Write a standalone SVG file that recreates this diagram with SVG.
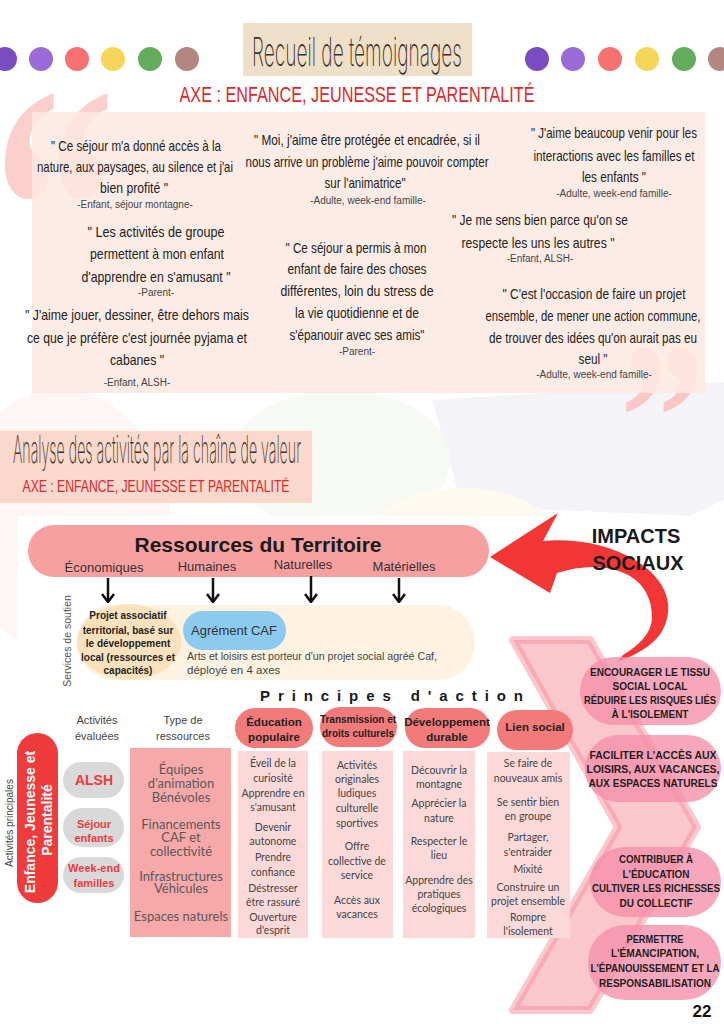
<svg xmlns="http://www.w3.org/2000/svg" width="724" height="1024" viewBox="0 0 724 1024">
<style>
.q{font-family:"Liberation Sans",Arial,sans-serif;font-size:14.5px;fill:#222;text-anchor:middle}
.a{font-family:"Liberation Sans",Arial,sans-serif;font-size:10px;fill:#444;text-anchor:middle}
.thin{font-family:Inter,"DejaVu Sans",sans-serif;font-weight:200;fill:#3d3229;text-anchor:middle}
.axe{font-family:"Liberation Sans",Arial,sans-serif;fill:#e3262b;text-anchor:middle}
.lbl{font-family:"Liberation Sans",Arial,sans-serif;font-size:13px;fill:#333;text-anchor:middle}
.col{font-family:Lato,"Liberation Sans",sans-serif;font-size:10.5px;fill:#444;text-anchor:middle}
.hd{font-family:"Liberation Sans",Arial,sans-serif;font-weight:bold;fill:#222;text-anchor:middle}
.res{font-family:Lato,"Liberation Sans",sans-serif;font-size:13px;fill:#5a5a5a;text-anchor:middle}
.imp{font-family:"Liberation Sans",Arial,sans-serif;font-weight:bold;font-size:10.5px;fill:#1e1e1e;text-anchor:middle}
.act{font-family:"Liberation Sans",Arial,sans-serif;font-weight:bold;fill:#ee3b3b;text-anchor:middle}
.sm{font-family:"Liberation Sans",Arial,sans-serif;font-size:11px;fill:#444;text-anchor:middle}
.big{font-family:"Liberation Serif","Times New Roman",serif;font-weight:bold}
.pillh{fill:#f27a7a}
.colbox{fill:#fcd9d9}
.ipill{fill:#f590aa;fill-opacity:0.8}
.darr{stroke:#111;stroke-width:2.5;fill:none}
</style>
<defs>
<marker id="ah" viewBox="0 -7 10 14" markerWidth="10" markerHeight="14" refX="9" refY="0" orient="auto" markerUnits="userSpaceOnUse">
<path d="M1,-6 L9,0 L1,6" fill="none" stroke="#111" stroke-width="2.5"/>
</marker>
</defs>
<rect width="724" height="1024" fill="#ffffff"/>
<g id="background">
<polygon points="432,400 724,382 724,500 690,516 462,506" fill="#f4f3f8"/>
<ellipse cx="340" cy="460" rx="110" ry="70" fill="#f7faf4"/>
<ellipse cx="60" cy="520" rx="110" ry="130" fill="#fef6f5"/>
<ellipse cx="462" cy="560" rx="110" ry="72" fill="#fefaf0"/>
<rect x="18" y="516" width="562" height="440" fill="#ffffff"/>
</g>
<g id="dots">
<circle cx="5" cy="59" r="12" fill="#7b4cc0"/>
<circle cx="41" cy="59" r="12" fill="#9b6bd8"/>
<circle cx="77" cy="59" r="12" fill="#f87171"/>
<circle cx="113" cy="59" r="12" fill="#f5d65a"/>
<circle cx="150" cy="59" r="12" fill="#63ad5c"/>
<circle cx="187" cy="59" r="12" fill="#b3867f"/>
<circle cx="537" cy="59" r="12" fill="#7b4cc0"/>
<circle cx="573" cy="59" r="12" fill="#9b6bd8"/>
<circle cx="610" cy="59" r="12" fill="#f87171"/>
<circle cx="647" cy="59" r="12" fill="#f5d65a"/>
<circle cx="684" cy="59" r="12" fill="#63ad5c"/>
<circle cx="720" cy="59" r="12" fill="#b3867f"/>
</g>
<g id="title1">
<rect x="243" y="23" width="229" height="53" fill="#f0dfc8"/>
<text class="thin" x="357" y="66" font-size="40" textLength="210" lengthAdjust="spacingAndGlyphs">Recueil de témoignages</text>
<text class="axe" x="357" y="102" font-size="22" textLength="355" lengthAdjust="spacingAndGlyphs">AXE : ENFANCE, JEUNESSE ET PARENTALITÉ</text>
</g>
<g id="quotes">
<text class="big" transform="translate(-7,326) scale(0.7,1)" font-size="350" fill="#fbcfcb">“</text>
<text class="big" transform="translate(620,489) scale(0.8,1)" font-size="212" fill="#fbc6c6">”</text>
<rect x="32" y="112" width="673" height="281" fill="#fde9e1" fill-opacity="0.86"/>
<g id="quote1">
<text class="q" x="136" y="151" textLength="170" lengthAdjust="spacingAndGlyphs">" Ce séjour m'a donné accès à la</text>
<text class="q" x="135" y="172" textLength="196" lengthAdjust="spacingAndGlyphs">nature, aux paysages, au silence et j'ai</text>
<text class="q" x="134" y="193" textLength="68" lengthAdjust="spacingAndGlyphs">bien profité "</text>
<text class="a" x="135" y="208">-Enfant, séjour montagne-</text>
</g>
<g id="quote2">
<text class="q" x="156" y="237" textLength="137" lengthAdjust="spacingAndGlyphs">" Les activités de groupe</text>
<text class="q" x="157" y="259" textLength="134" lengthAdjust="spacingAndGlyphs">permettent à mon enfant</text>
<text class="q" x="156" y="282" textLength="149" lengthAdjust="spacingAndGlyphs">d'apprendre en s'amusant "</text>
<text class="a" x="156" y="296">-Parent-</text>
</g>
<g id="quote3">
<text class="q" x="137" y="320" textLength="224" lengthAdjust="spacingAndGlyphs">" J'aime jouer, dessiner, être dehors mais</text>
<text class="q" x="137" y="343" textLength="220" lengthAdjust="spacingAndGlyphs">ce que je préfère c'est journée pyjama et</text>
<text class="q" x="137" y="365" textLength="54" lengthAdjust="spacingAndGlyphs">cabanes "</text>
<text class="a" x="137" y="386">-Enfant, ALSH-</text>
</g>
<g id="quote4">
<text class="q" x="367" y="145" textLength="226" lengthAdjust="spacingAndGlyphs">" Moi, j'aime être protégée et encadrée, si il</text>
<text class="q" x="367" y="167" textLength="243" lengthAdjust="spacingAndGlyphs">nous arrive un problème j'aime pouvoir compter</text>
<text class="q" x="365" y="188" textLength="81" lengthAdjust="spacingAndGlyphs">sur l'animatrice"</text>
<text class="a" x="368" y="204">-Adulte, week-end famille-</text>
</g>
<g id="quote5">
<text class="q" x="356" y="253" textLength="141" lengthAdjust="spacingAndGlyphs">" Ce séjour a permis à mon</text>
<text class="q" x="357" y="274" textLength="139" lengthAdjust="spacingAndGlyphs">enfant de faire des choses</text>
<text class="q" x="357" y="296" textLength="153" lengthAdjust="spacingAndGlyphs">différentes, loin du stress de</text>
<text class="q" x="357" y="318" textLength="124" lengthAdjust="spacingAndGlyphs">la vie quotidienne et de</text>
<text class="q" x="357" y="340" textLength="135" lengthAdjust="spacingAndGlyphs">s'épanouir avec ses amis"</text>
<text class="a" x="357" y="355">-Parent-</text>
</g>
<g id="quote6">
<text class="q" x="614" y="138" textLength="166" lengthAdjust="spacingAndGlyphs">" J'aime beaucoup venir pour les</text>
<text class="q" x="614" y="161" textLength="161" lengthAdjust="spacingAndGlyphs">interactions avec les familles et</text>
<text class="q" x="614" y="182" textLength="64" lengthAdjust="spacingAndGlyphs">les enfants "</text>
<text class="a" x="614" y="197">-Adulte, week-end famille-</text>
</g>
<g id="quote7">
<text class="q" x="540" y="225" textLength="176" lengthAdjust="spacingAndGlyphs">" Je me sens bien parce qu'on se</text>
<text class="q" x="538" y="248" textLength="153" lengthAdjust="spacingAndGlyphs">respecte les uns les autres "</text>
<text class="a" x="540" y="262">-Enfant, ALSH-</text>
</g>
<g id="quote8">
<text class="q" x="594" y="299" textLength="183" lengthAdjust="spacingAndGlyphs">" C'est l'occasion de faire un projet</text>
<text class="q" x="593" y="321" textLength="215" lengthAdjust="spacingAndGlyphs">ensemble, de mener une action commune,</text>
<text class="q" x="593" y="343" textLength="208" lengthAdjust="spacingAndGlyphs">de trouver des idées qu'on aurait pas eu</text>
<text class="q" x="593" y="364" textLength="29" lengthAdjust="spacingAndGlyphs">seul "</text>
<text class="a" x="594" y="378">-Adulte, week-end famille-</text>
</g>
</g>
<g id="title2">
<rect x="0" y="431" width="312" height="72" fill="#fbd8cc"/>
<text class="thin" x="157" y="463" font-size="38" textLength="288" lengthAdjust="spacingAndGlyphs">Analyse des activités par la chaîne de valeur</text>
<text class="axe" x="156" y="492" font-size="17" textLength="267" lengthAdjust="spacingAndGlyphs">AXE : ENFANCE, JEUNESSE ET PARENTALITÉ</text>
</g>
<g id="chevron">
<polygon points="513,640 590,640 697,827 590,1010 513,1010 618,827" fill="#f58f99" fill-opacity="0.5" stroke="#f58f99" stroke-opacity="0.5" stroke-width="8" stroke-linejoin="round"/>
</g>
<g id="ressources">
<rect x="28" y="525" width="461" height="52" rx="26" fill="#f8a0a0"/>
<text x="258" y="552" font-family="Liberation Sans, Arial, sans-serif" font-weight="bold" font-size="21" fill="#1a1a1a" text-anchor="middle">Ressources du Territoire</text>
<text class="lbl" x="104" y="572">Économiques</text>
<text class="lbl" x="207" y="571">Humaines</text>
<text class="lbl" x="303" y="569">Naturelles</text>
<text class="lbl" x="404" y="571">Matérielles</text>
</g>
<g id="services">
<text transform="translate(71,641) rotate(-90)" font-family="Liberation Sans, Arial, sans-serif" font-size="10.5" fill="#555" text-anchor="middle">Services de soutien</text>
<rect x="77" y="605" width="398" height="75" rx="37" fill="#fdf3e0"/>
</g>
<g id="projet">
<ellipse cx="129" cy="642" rx="52" ry="38" fill="#fbe2bd"/>
<g font-family="Liberation Sans, Arial, sans-serif" font-weight="bold" font-size="10" fill="#222" text-anchor="middle">
<text x="128" y="619">Projet associatif</text>
<text x="128" y="634">territorial, basé sur</text>
<text x="128" y="647">le développement</text>
<text x="128" y="661">local (ressources et</text>
<text x="128" y="674">capacités)</text>
</g>
</g>
<g id="agrement">
<rect x="183" y="611" width="103" height="39" rx="19.5" fill="#8ccbef"/>
<text x="234" y="635" font-family="Liberation Sans, Arial, sans-serif" font-size="13" fill="#333" text-anchor="middle">Agrément CAF</text>
<text x="187" y="660" font-family="Liberation Sans, Arial, sans-serif" font-size="11.5" fill="#444" textLength="250" lengthAdjust="spacingAndGlyphs">Arts et loisirs est porteur d'un projet social agréé Caf,</text>
<text x="187" y="674" font-family="Liberation Sans, Arial, sans-serif" font-size="11.5" fill="#444">déployé en 4 axes</text>
</g>
<g id="connectors">
<line class="darr" x1="108" y1="578" x2="108" y2="602" marker-end="url(#ah)"/>
<line class="darr" x1="213" y1="578" x2="213" y2="602" marker-end="url(#ah)"/>
<line class="darr" x1="311" y1="576" x2="311" y2="602" marker-end="url(#ah)"/>
<line class="darr" x1="399" y1="578" x2="399" y2="602" marker-end="url(#ah)"/>
<path id="impact-arrow" d="M490,557 L558,513 L543,541 C575,538 610,545 635,560 C660,575 670,595 668,612 C666,632 655,648 617,662 L623,655 C640,645 652,632 652,617 C652,600 645,585 630,576 C610,565 585,564 557,573 L550,593 Z" fill="#f23535"/>
</g>
<g id="impacts-title">
<text x="636" y="543" font-family="Liberation Sans, Arial, sans-serif" font-weight="bold" font-size="20" fill="#1a1a1a" text-anchor="middle">IMPACTS</text>
<text x="638" y="570" font-family="Liberation Sans, Arial, sans-serif" font-weight="bold" font-size="20" fill="#1a1a1a" text-anchor="middle">SOCIAUX</text>
</g>
<g id="principes">
<text x="260" y="701" font-family="Liberation Sans, Arial, sans-serif" font-weight="bold" font-size="15" fill="#1a1a1a" textLength="263" lengthAdjust="spacing">Principes d'action</text>
</g>
<g id="activites-principales">
<text transform="translate(13,823) rotate(-90)" font-family="Liberation Sans, Arial, sans-serif" font-size="10" fill="#444" text-anchor="middle">Activités principales</text>
<rect x="17" y="733" width="41" height="170" rx="20.5" fill="#ef3b3b"/>
<g font-family="Liberation Sans, Arial, sans-serif" font-weight="bold" font-size="14" fill="#ffffff" text-anchor="middle">
<text transform="translate(35,822) rotate(-90)">Enfance, Jeunesse et</text>
<text transform="translate(52,820) rotate(-90)">Parentalité</text>
</g>
</g>
<g id="activites-evaluees">
<text class="sm" x="97" y="724">Activités</text>
<text class="sm" x="97" y="740">évaluées</text>
</g>
<g id="alsh">
<rect x="63" y="762" width="61" height="36" rx="18" fill="#d9d9d9"/>
<text class="act" x="94" y="785" font-size="14">ALSH</text>
</g>
<g id="sejour">
<rect x="63" y="808" width="61" height="39" rx="19.5" fill="#d9d9d9"/>
<text class="act" x="94" y="828" font-size="11">Séjour</text>
<text class="act" x="94" y="842" font-size="11">enfants</text>
</g>
<g id="weekend">
<rect x="63" y="857" width="61" height="36" rx="18" fill="#d9d9d9"/>
<text class="act" x="94" y="872" font-size="11">Week-end</text>
<text class="act" x="94" y="887" font-size="11">familles</text>
</g>
<g id="type-ressources">
<text class="sm" x="183" y="724">Type de</text>
<text class="sm" x="183" y="740">ressources</text>
<rect x="130" y="748" width="101" height="189" fill="#f7a8a8"/>
<text class="res" x="181" y="774">Équipes</text>
<text class="res" x="181" y="788">d'animation</text>
<text class="res" x="181" y="802">Bénévoles</text>
<text class="res" x="181" y="829">Financements</text>
<text class="res" x="181" y="842">CAF et</text>
<text class="res" x="181" y="856">collectivité</text>
<text class="res" x="181" y="881">Infrastructures</text>
<text class="res" x="181" y="893">Véhicules</text>
<text class="res" x="181" y="921">Espaces naturels</text>
</g>
<g id="education-populaire">
<rect class="pillh" x="235" y="708" width="78" height="40" rx="20"/>
<text class="hd" x="274" y="726" font-size="11.5">Éducation</text>
<text class="hd" x="274" y="741" font-size="11.5">populaire</text>
<rect class="colbox" x="238" y="751" width="70" height="187"/>
<text class="col" x="273" y="767">Éveil de la</text>
<text class="col" x="273" y="782">curiosité</text>
<text class="col" x="273" y="797">Apprendre en</text>
<text class="col" x="273" y="811">s'amusant</text>
<text class="col" x="273" y="831">Devenir</text>
<text class="col" x="273" y="845">autonome</text>
<text class="col" x="273" y="861">Prendre</text>
<text class="col" x="273" y="876">confiance</text>
<text class="col" x="273" y="892">Déstresser</text>
<text class="col" x="273" y="906">être rassuré</text>
<text class="col" x="273" y="921">Ouverture</text>
<text class="col" x="273" y="934">d'esprit</text>
</g>
<g id="transmission">
<rect class="pillh" x="320" y="707" width="77" height="40" rx="20"/>
<text class="hd" x="358" y="723" font-size="10">Transmission et</text>
<text class="hd" x="358" y="737" font-size="10">droits culturels</text>
<rect class="colbox" x="322" y="751" width="71" height="187"/>
<text class="col" x="357" y="769">Activités</text>
<text class="col" x="357" y="783">originales</text>
<text class="col" x="357" y="797">ludiques</text>
<text class="col" x="357" y="812">culturelle</text>
<text class="col" x="357" y="827">sportives</text>
<text class="col" x="357" y="850">Offre</text>
<text class="col" x="357" y="865">collective de</text>
<text class="col" x="357" y="879">service</text>
<text class="col" x="357" y="904">Accès aux</text>
<text class="col" x="357" y="918">vacances</text>
</g>
<g id="developpement">
<rect class="pillh" x="405" y="708" width="85" height="40" rx="20"/>
<text class="hd" x="447" y="726" font-size="11.5">Développement</text>
<text class="hd" x="447" y="741" font-size="11.5">durable</text>
<rect class="colbox" x="403" y="751" width="72" height="187"/>
<text class="col" x="439" y="774">Découvrir la</text>
<text class="col" x="439" y="788">montagne</text>
<text class="col" x="439" y="807">Apprécier la</text>
<text class="col" x="439" y="822">nature</text>
<text class="col" x="439" y="845">Respecter le</text>
<text class="col" x="439" y="859">lieu</text>
<text class="col" x="439" y="884">Apprendre des</text>
<text class="col" x="439" y="898">pratiques</text>
<text class="col" x="439" y="912">écologiques</text>
</g>
<g id="lien-social">
<rect class="pillh" x="497" y="710" width="76" height="40" rx="20"/>
<text class="hd" x="535" y="731" font-size="11.5">Lien social</text>
<rect class="colbox" x="487" y="752" width="83" height="186"/>
<text class="col" x="528" y="767">Se faire de</text>
<text class="col" x="528" y="782">nouveaux amis</text>
<text class="col" x="528" y="806">Se sentir bien</text>
<text class="col" x="528" y="820">en groupe</text>
<text class="col" x="528" y="841">Partager,</text>
<text class="col" x="528" y="856">s'entraider</text>
<text class="col" x="528" y="873">Mixité</text>
<text class="col" x="528" y="891">Construire un</text>
<text class="col" x="528" y="905">projet ensemble</text>
<text class="col" x="528" y="921">Rompre</text>
<text class="col" x="528" y="935">l'isolement</text>
</g>
<g id="impact1">
<rect class="ipill" x="580" y="657" width="141" height="68" rx="34"/>
<text class="imp" x="650" y="676" textLength="120" lengthAdjust="spacingAndGlyphs">ENCOURAGER LE TISSU</text>
<text class="imp" x="650" y="690" textLength="75" lengthAdjust="spacingAndGlyphs">SOCIAL LOCAL</text>
<text class="imp" x="650" y="704" textLength="132" lengthAdjust="spacingAndGlyphs">RÉDUIRE LES RISQUES LIÉS</text>
<text class="imp" x="650" y="718" textLength="77" lengthAdjust="spacingAndGlyphs">À L'ISOLEMENT</text>
</g>
<g id="impact2">
<rect class="ipill" x="585" y="735" width="136" height="67" rx="33.5"/>
<text class="imp" x="653" y="759" textLength="127" lengthAdjust="spacingAndGlyphs">FACILITER L'ACCÈS AUX</text>
<text class="imp" x="653" y="773" textLength="133" lengthAdjust="spacingAndGlyphs">LOISIRS, AUX VACANCES,</text>
<text class="imp" x="653" y="787" textLength="129" lengthAdjust="spacingAndGlyphs">AUX ESPACES NATURELS</text>
</g>
<g id="impact3">
<rect class="ipill" x="590" y="847" width="131" height="70" rx="35"/>
<text class="imp" x="656" y="863" textLength="74" lengthAdjust="spacingAndGlyphs">CONTRIBUER À</text>
<text class="imp" x="656" y="878" textLength="67" lengthAdjust="spacingAndGlyphs">L'ÉDUCATION</text>
<text class="imp" x="656" y="892" textLength="128" lengthAdjust="spacingAndGlyphs">CULTIVER LES RICHESSES</text>
<text class="imp" x="656" y="907" textLength="73" lengthAdjust="spacingAndGlyphs">DU COLLECTIF</text>
</g>
<g id="impact4">
<rect class="ipill" x="588" y="925" width="133" height="75" rx="37"/>
<text class="imp" x="655" y="943" textLength="57" lengthAdjust="spacingAndGlyphs">PERMETTRE</text>
<text class="imp" x="655" y="957" textLength="88" lengthAdjust="spacingAndGlyphs">L'ÉMANCIPATION,</text>
<text class="imp" x="655" y="972" textLength="129" lengthAdjust="spacingAndGlyphs">L'ÉPANOUISSEMENT ET LA</text>
<text class="imp" x="655" y="987" textLength="112" lengthAdjust="spacingAndGlyphs">RESPONSABILISATION</text>
</g>
<g id="page-number">
<text x="702" y="1017" font-family="Liberation Sans, Arial, sans-serif" font-weight="bold" font-size="17" fill="#111" text-anchor="middle">22</text>
</g>
</svg>
